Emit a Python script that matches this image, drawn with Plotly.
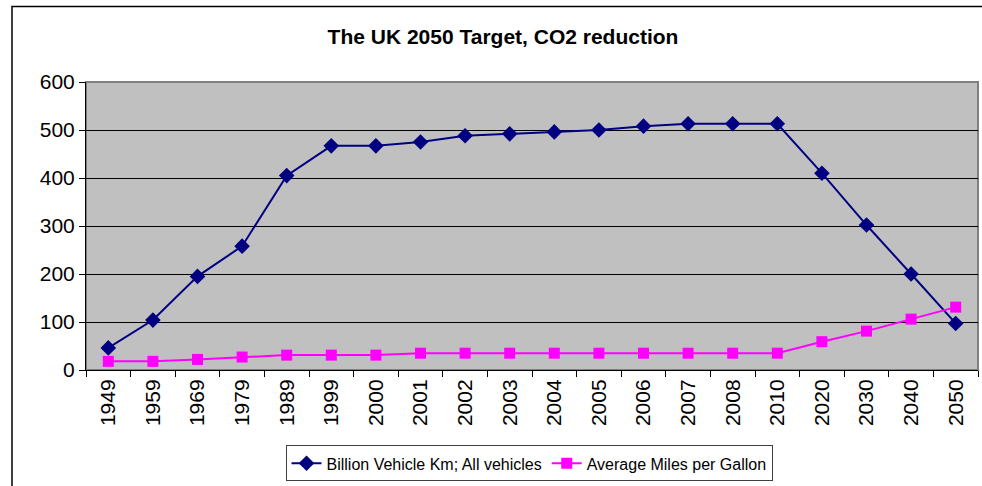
import plotly.graph_objects as go

years = ["1949", "1959", "1969", "1979", "1989", "1999", "2000", "2001", "2002", "2003",
         "2004", "2005", "2006", "2007", "2008", "2010", "2020", "2030", "2040", "2050"]
vehicle_km = [46, 104, 195, 258, 405, 467, 467, 475, 488, 492,
              496, 500, 508, 513, 513, 513, 410, 302, 200, 97]
mpg = [18, 18, 22, 27, 31, 31, 31, 35, 35, 35,
       35, 35, 35, 35, 35, 35, 59, 81, 106, 131]

fig = go.Figure()
fig.add_trace(go.Scatter(
    x=years, y=vehicle_km, mode="lines+markers",
    name="Billion Vehicle Km; All vehicles",
    line=dict(color="#000080", width=2),
    marker=dict(symbol="diamond", size=12, color="#000080"),
))
fig.add_trace(go.Scatter(
    x=years, y=mpg, mode="lines+markers",
    name="Average Miles per Gallon",
    line=dict(color="#FF00FF", width=2),
    marker=dict(symbol="square", size=11, color="#FF00FF"),
))

L, R, T, B = 86, 4, 82, 114
W, H = 982, 486
pw = W - L - R
ph = H - T - B

def px(x):
    return (x - L) / pw

def py(y):
    return (H - B - y) / ph

fig.update_layout(
    width=W, height=H,
    margin=dict(l=L, r=R, t=T, b=B),
    paper_bgcolor="white",
    plot_bgcolor="#C0C0C0",
    font=dict(family="Liberation Sans, Arial, sans-serif", color="black"),
    title=dict(text="<b>The UK 2050 Target, CO2 reduction</b>",
               x=503 / W, xanchor="center", xref="container",
               y=1 - 37 / H, yanchor="middle",
               font=dict(size=21, family="Liberation Sans, Arial, sans-serif")),
    showlegend=True,
    legend=dict(orientation="h", x=px(529), xanchor="center", y=py(466), yanchor="middle",
                bordercolor="#404040", borderwidth=1, bgcolor="white",
                font=dict(size=16), tracegroupgap=0),
    xaxis=dict(type="category", range=[-0.5, 19.5], tickangle=-90,
               tickfont=dict(size=21), showgrid=False, showline=True,
               linecolor="black", linewidth=1, ticks="outside", ticklen=6,
               tickcolor="black", tickson="boundaries", zeroline=False),
    yaxis=dict(range=[0, 600], tickvals=[0, 100, 200, 300, 400, 500, 600],
               tickfont=dict(size=21), showgrid=True, gridcolor="black", gridwidth=1,
               showline=True, linecolor="black", linewidth=1, ticks="outside",
               ticklen=6, tickcolor="black", zeroline=False),
    shapes=[
        dict(type="rect", xref="paper", yref="paper", x0=0, x1=1, y0=0, y1=1,
             line=dict(color="#808080", width=2), layer="below"),
        dict(type="rect", xref="paper", yref="paper", x0=px(12), x1=px(990),
             y0=py(490), y1=py(6), line=dict(color="black", width=1.5)),
    ],
)

fig.write_html("out.html")
